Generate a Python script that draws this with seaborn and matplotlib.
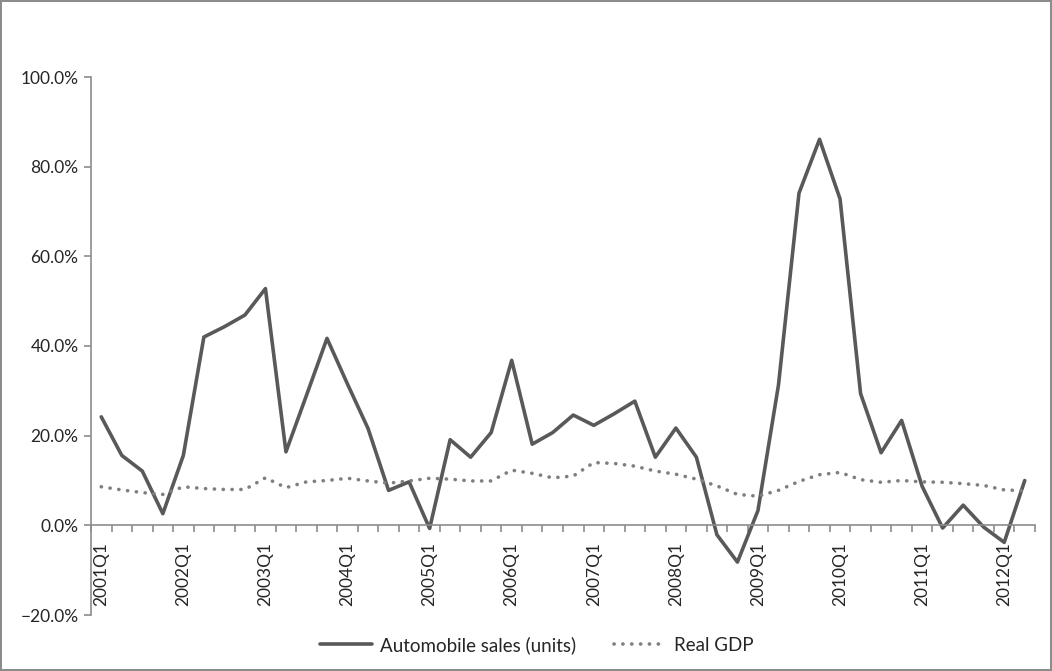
import numpy as np
import pandas as pd
import matplotlib.pyplot as plt
import seaborn as sns
from matplotlib.ticker import PercentFormatter, FixedLocator

sns.set_style("white", {"xtick.bottom": True, "ytick.left": True})
plt.rcParams["font.family"] = ["Lato", "DejaVu Sans"]

# ----- DATA (year-on-year growth, %) -----
quarters = [f"{y}Q{q}" for y in range(2001, 2013) for q in range(1, 5)][:46]

auto_sales = [24.2, 15.6, 12.1, 2.6, 15.6, 42.0, 44.3, 46.9,
              52.8, 16.4, 29.0, 41.7, 31.5, 21.6, 7.8, 9.7,
              -0.7, 19.1, 15.2, 20.7, 36.8, 18.1, 20.7, 24.6,
              22.3, 24.9, 27.7, 15.2, 21.7, 15.2, -2.1, -8.2,
              3.3, 31.3, 74.1, 86.1, 72.8, 29.4, 16.2, 23.4,
              8.7, -0.6, 4.5, -0.4, -3.8, 10.0]

real_gdp = [8.6, 7.9, 7.3, 6.9, 8.6, 8.2, 8.0, 8.0,
            10.6, 8.4, 9.7, 10.0, 10.5, 9.9, 9.4, 9.9,
            10.5, 10.3, 9.9, 9.9, 12.3, 11.6, 10.6, 11.0,
            14.0, 13.8, 13.2, 12.1, 11.4, 10.3, 8.8, 6.9,
            6.5, 7.8, 9.8, 11.3, 11.8, 10.2, 9.6, 10.0,
            9.7, 9.6, 9.3, 8.9, 7.9, 7.7]

df = pd.DataFrame({"pos": np.arange(len(quarters)),
                   "auto": np.array(auto_sales) / 100,
                   "gdp": np.array(real_gdp) / 100})

# ----- PLOT -----
fig = plt.figure(figsize=(10.52, 6.71), dpi=100, edgecolor="#8c8c8c", linewidth=1.5)
ax = fig.add_axes([91 / 1052, 1 - 615 / 671, (1035 - 91) / 1052, (615 - 77) / 671])

sns.lineplot(data=df, x="pos", y="auto", ax=ax, color="#595959", linewidth=2.6,
             label="Automobile sales (units)")
sns.lineplot(data=df, x="pos", y="gdp", ax=ax, color="#7f7f7f", linewidth=2.6,
             label="Real GDP", dash_capstyle="round")
ax.lines[1].set_linestyle((0, (0.05, 2.4)))

ax.set_xlim(-0.5, len(quarters) - 0.5)
ax.set_ylim(-0.2, 1.0)
ax.set_yticks(np.arange(-0.2, 1.01, 0.2))
ax.yaxis.set_major_formatter(PercentFormatter(1.0, decimals=1))

# category axis crossing at zero
ax.spines["bottom"].set_position(("data", 0))
for s in ["top", "right"]:
    ax.spines[s].set_visible(False)
for s in ["left", "bottom"]:
    ax.spines[s].set_color("#8c8c8c")
    ax.spines[s].set_linewidth(1.2)

major = list(range(0, len(quarters), 4))
ax.xaxis.set_major_locator(FixedLocator(major))
ax.set_xticklabels([quarters[i] for i in major], rotation=90, fontsize=12.5)
ax.xaxis.set_minor_locator(FixedLocator(np.arange(-0.5, len(quarters), 1.0)))
ax.tick_params(axis="x", which="major", length=0, pad=12)
ax.tick_params(axis="x", which="minor", length=5, width=1.2, color="#8c8c8c",
               direction="out", bottom=True)
ax.tick_params(axis="y", length=5, width=1.2, color="#8c8c8c", direction="out",
               left=True, labelsize=12.5, pad=4)
ax.set_xlabel("")
ax.set_ylabel("")

handles, labels = ax.get_legend_handles_labels()
ax.get_legend().remove()
fig.legend(handles, labels, loc="center", bbox_to_anchor=(0.51, 1 - 645 / 671), ncol=2,
           frameon=False, fontsize=13.5, handlelength=2.8, columnspacing=2.0, handletextpad=0.4)

fig.savefig("out.png", dpi=100)
